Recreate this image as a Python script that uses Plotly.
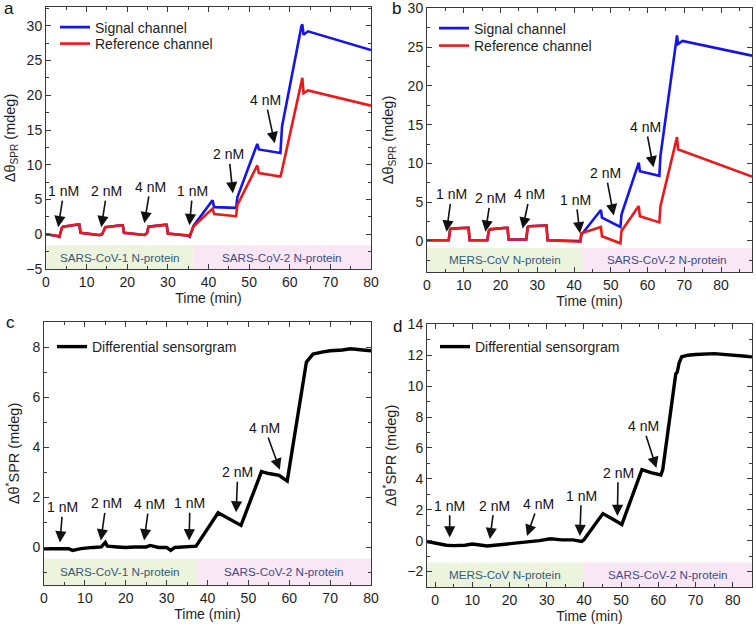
import plotly.graph_objects as go

W, H = 756, 632

# ---------------- data ----------------
a_time = [0, 2.5, 3.3, 3.9, 4.2, 7.5, 8.2, 8.5, 13.2, 13.8, 14.3, 14.6, 18.5, 18.9, 19.2, 24.3, 24.9, 25.2,
          29.2, 29.7, 30.0, 35.0, 35.4, 36.3, 41.0, 41.4, 46.8, 47.1, 52.0, 52.4, 57.7, 58.1, 62.9, 63.1,
          63.4, 64.5, 80.0]
a_signal = [0, -0.2, -0.4, 0.9, 1.1, 1.4, 1.4, 0.2, -0.15, 0.0, 0.8, 1.0, 1.3, 1.3, 0.2, -0.1, 0.2, 1.1,
            1.35, 1.35, 0.1, -0.2, -0.35, 1.2, 4.9, 3.9, 3.8, 5.3, 13.0, 12.2, 11.7, 15.5, 30.0, 30.2,
            28.7, 29.2, 26.5]
a_reference = [0, -0.2, -0.3, 0.9, 1.1, 1.4, 1.4, 0.2, -0.1, 0.0, 0.8, 1.0, 1.3, 1.3, 0.2, -0.1, 0.2, 1.1,
               1.35, 1.35, 0.1, -0.2, -0.2, 1.1, 3.7, 2.9, 2.6, 4.2, 9.9, 8.8, 8.3, 9.2, 22.0, 22.5,
               20.3, 20.7, 18.5]

b_time = [0, 5.9, 6.3, 6.6, 11.0, 11.3, 11.6, 16.4, 16.8, 17.1, 21.6, 21.9, 22.2, 27.0, 27.4, 27.7, 32.2,
          32.5, 32.8, 41.7, 42.0, 47.3, 47.6, 52.6, 52.9, 57.6, 57.9, 63.2, 63.5, 68.0, 68.3, 69.5, 88.4]
b_signal = [0.1, 0.1, 1.5, 1.6, 1.7, 1.7, 0.1, 0.1, 1.3, 1.5, 1.7, 1.7, 0.2, 0.2, 1.8, 1.9, 2.0,
            2.0, 0.1, 0.0, 0.8, 4.0, 3.0, 1.8, 3.4, 10.1, 9.0, 8.4, 11.0, 26.5, 25.4, 25.8, 23.9]
b_reference = [0.1, 0.1, 1.5, 1.6, 1.7, 1.7, 0.1, 0.1, 1.3, 1.5, 1.7, 1.7, 0.2, 0.2, 1.8, 1.9, 2.0,
               2.0, 0.1, -0.1, 1.0, 1.8, 0.6, -0.3, 1.3, 4.5, 3.2, 2.4, 4.5, 13.4, 11.8, 11.6, 8.3]

c_time = [0, 2, 4, 6, 7, 9, 12, 14, 15, 15.5, 18, 20, 22, 25, 26, 28, 30, 31, 32, 34, 36.5, 37.2,
          42.6, 44, 46, 47.5, 48.2, 53.2, 55, 57.5, 59.0, 59.5, 64.2, 65.8, 68, 70, 73, 75, 78, 80]
c_diff = [-0.05, -0.05, -0.08, -0.05, -0.12, -0.05, 0.0, 0.02, 0.2, 0.05, 0.02, 0.0, 0.02, 0.02, 0.08,
          0.0, 0.0, -0.12, 0.0, 0.02, 0.03, 0.05, 1.38, 1.25, 1.1, 0.95, 0.88, 3.03, 2.95, 2.88, 2.7,
          2.65, 7.4, 7.72, 7.8, 7.85, 7.88, 7.93, 7.88, 7.85]

d_time = [-2.2, 0, 3, 5, 8, 10, 12, 14, 16, 20, 25, 28, 31, 34, 37, 39.4, 40, 45.1, 47, 50.2, 55.6, 58,
          60.7, 61.2, 64.7, 65.1, 65.6, 66.3, 68, 70, 75, 80, 85.2]
d_diff = [-0.05, -0.15, -0.3, -0.32, -0.3, -0.22, -0.3, -0.35, -0.3, -0.2, -0.12, 0.0, 0.12, 0.05, 0.05,
          -0.05, 0.05, 1.75, 1.5, 1.05, 4.6, 4.4, 4.25, 4.6, 10.8, 10.9, 11.5, 11.9, 12.0, 12.05, 12.1,
          12.0, 11.9]

# annotations: (label, tip_x, tip_y, text_x, text_y)
a_marks = [("1 nM", 3.0, 1.0, 4.4, 6.2), ("2 nM", 13.6, 1.0, 15.0, 6.2), ("4 nM", 24.2, 1.6, 25.7, 6.8),
           ("1 nM", 35.3, 1.3, 36.1, 6.2), ("2 nM", 46.0, 5.9, 45.0, 11.5), ("4 nM", 56.3, 13.1, 54.0, 19.3)]
b_marks = [("1 nM", 5.3, 1.2, 6.7, 6.0), ("2 nM", 15.9, 1.2, 17.3, 5.5), ("4 nM", 26.0, 1.6, 28.0, 6.0),
           ("1 nM", 41.6, 1.0, 40.5, 5.3), ("2 nM", 50.8, 3.3, 48.6, 8.75), ("4 nM", 61.6, 9.5, 59.5, 14.7)]
c_marks = [("1 nM", 3.9, 0.2, 4.6, 1.6), ("2 nM", 13.9, 0.28, 15.2, 1.76), ("4 nM", 24.5, 0.28, 25.7, 1.73),
           ("1 nM", 35.5, 0.28, 35.7, 1.76), ("2 nM", 47.0, 1.4, 47.4, 3.0), ("4 nM", 57.7, 3.1, 54.0, 4.77)]
d_marks = [("1 nM", 3.9, 0.2, 3.9, 2.26), ("2 nM", 14.7, 0.1, 15.9, 2.26), ("4 nM", 24.7, 0.3, 27.7, 2.37),
           ("1 nM", 38.9, 0.3, 39.3, 2.9), ("2 nM", 49.0, 1.6, 49.2, 4.4), ("4 nM", 59.5, 4.7, 55.9, 7.4)]

# shaded sample regions: (x_start, x_split, x_end, y_top), labels
a_shade = (0, 36.3, 80, -1.6)
b_shade = (0, 42.4, 88.4, -0.9)
c_shade = (0, 37.4, 80, -0.45)
d_shade = (-2.2, 40.0, 85.2, -1.42)
a_labels = ("SARS-CoV-1 N-protein", "SARS-CoV-2 N-protein")
b_labels = ("MERS-CoV N-protein", "SARS-CoV-2 N-protein")

# ---------------- layout helpers ----------------
def px(x):
    return x / W

def py(y):
    return 1 - y / H

FONT = "Liberation Sans, Arial, sans-serif"
LINE = "#3a3a3a"
GREEN = "rgb(237,244,221)"
PINK = "rgb(250,231,246)"
TXT_L = "#33597a"
TXT_R = "#3a4c86"
BLUE = "rgb(20,20,235)"
RED = "rgb(235,25,25)"

panels = [
    dict(xa="xaxis", ya="yaxis", xr="x", yr="y", fx=(46, 371), fy=(7, 269), xrange=[0, 80],
         yrange=[-5, 32.7], ydt=5, ymin=2.5, ytitle="Δθ<sub>SPR</sub> (mdeg)", so=7),
    dict(xa="xaxis2", ya="yaxis2", xr="x2", yr="y2", fx=(427, 752), fy=(8, 272), xrange=[0, 88.4],
         yrange=[-4, 30.05], ydt=5, ymin=2.5, ytitle="Δθ<sub>SPR</sub> (mdeg)", so=10),
    dict(xa="xaxis3", ya="yaxis3", xr="x3", yr="y3", fx=(44, 371), fy=(322, 585), xrange=[0, 80],
         yrange=[-1.5, 9], ydt=2, ymin=1, ytitle="Δθ<sup>*</sup>SPR (mdeg)", so=9),
    dict(xa="xaxis4", ya="yaxis4", xr="x4", yr="y4", fx=(427, 752), fy=(324, 587), xrange=[-2.2, 85.2],
         yrange=[-3, 14.02], ydt=2, ymin=1, ytitle="Δθ<sup>*</sup>SPR (mdeg)", so=7),
]

fig = go.Figure()

fig.add_trace(go.Scatter(x=a_time, y=a_signal, mode="lines", name="Signal channel",
                         line=dict(color=BLUE, width=2.6), xaxis="x", yaxis="y", legend="legend"))
fig.add_trace(go.Scatter(x=a_time, y=a_reference, mode="lines", name="Reference channel",
                         line=dict(color=RED, width=2.6), xaxis="x", yaxis="y", legend="legend2"))
fig.add_trace(go.Scatter(x=b_time, y=b_signal, mode="lines", name="Signal channel",
                         line=dict(color=BLUE, width=2.6), xaxis="x2", yaxis="y2", legend="legend3"))
fig.add_trace(go.Scatter(x=b_time, y=b_reference, mode="lines", name="Reference channel",
                         line=dict(color=RED, width=2.6), xaxis="x2", yaxis="y2", legend="legend4"))
fig.add_trace(go.Scatter(x=c_time, y=c_diff, mode="lines", name="Differential sensorgram",
                         line=dict(color="black", width=3.4), xaxis="x3", yaxis="y3", legend="legend5"))
fig.add_trace(go.Scatter(x=d_time, y=d_diff, mode="lines", name="Differential sensorgram",
                         line=dict(color="black", width=3.4), xaxis="x4", yaxis="y4", legend="legend6"))

layout = dict(width=W, height=H, margin=dict(l=0, r=0, t=0, b=0, autoexpand=False), paper_bgcolor="white",
              plot_bgcolor="white", font=dict(family=FONT, size=14, color="#1e1e1e"), showlegend=True)

for p in panels:
    common = dict(showline=True, linecolor=LINE, linewidth=1, mirror="allticks", ticks="inside",
                  ticklen=5, tickwidth=1, tickcolor=LINE, showgrid=False, zeroline=False, automargin=False,
                  tickfont=dict(size=14, color="#1e1e1e"))
    layout[p["xa"]] = dict(common, domain=[px(p["fx"][0]), px(p["fx"][1])], range=p["xrange"],
                           anchor=p["yr"], dtick=10, tick0=0,
                           minor=dict(ticks="inside", ticklen=3, tickcolor=LINE, dtick=5, tick0=0),
                           title=dict(text="Time (min)", font=dict(size=14), standoff=3))
    layout[p["ya"]] = dict(common, domain=[py(p["fy"][1]), py(p["fy"][0])], range=p["yrange"],
                           anchor=p["xr"], dtick=p["ydt"], tick0=0,
                           minor=dict(ticks="inside", ticklen=3, tickcolor=LINE, dtick=p["ymin"], tick0=0),
                           title=dict(text=p["ytitle"], font=dict(size=14.5), standoff=p["so"]))

# one legend per entry so each row sits exactly where the reference has it
leg_common = dict(xanchor="left", yanchor="top", bgcolor="rgba(0,0,0,0)", font=dict(size=14, color="#1e1e1e"),
                  itemwidth=30, tracegroupgap=0, borderwidth=0)
for name, lx, ltop in [("legend", 55, 11.5), ("legend2", 55, 28), ("legend3", 434, 12.5), ("legend4", 434, 30),
                       ("legend5", 52, 331), ("legend6", 435, 331)]:
    layout[name] = dict(leg_common, x=px(lx), y=py(ltop))

fig.update_layout(**layout)

shapes = []
annotations = []
for p, shade, labels in [(panels[0], a_shade, a_labels), (panels[1], b_shade, b_labels),
                         (panels[2], c_shade, a_labels), (panels[3], d_shade, b_labels)]:
    x0, xs, x1, ytop = shade
    ybot = p["yrange"][0]
    shapes.append(dict(type="rect", xref=p["xr"], yref=p["yr"], x0=x0, x1=xs, y0=ybot, y1=ytop,
                       fillcolor=GREEN, line=dict(width=0), layer="below"))
    shapes.append(dict(type="rect", xref=p["xr"], yref=p["yr"], x0=xs, x1=x1, y0=ybot, y1=ytop,
                       fillcolor=PINK, line=dict(width=0), layer="below"))
    ymid = (ybot + ytop) / 2
    annotations.append(dict(xref=p["xr"], yref=p["yr"], x=(x0 + xs) / 2, y=ymid, text=labels[0],
                            showarrow=False, font=dict(size=11.7, color=TXT_L)))
    annotations.append(dict(xref=p["xr"], yref=p["yr"], x=(xs + x1) / 2, y=ymid, text=labels[1],
                            showarrow=False, font=dict(size=11.7, color=TXT_R)))

for p, marks in [(panels[0], a_marks), (panels[1], b_marks), (panels[2], c_marks), (panels[3], d_marks)]:
    for lab, tx, ty, ax, ay in marks:
        annotations.append(dict(xref=p["xr"], yref=p["yr"], axref=p["xr"], ayref=p["yr"], x=tx, y=ty,
                                ax=ax, ay=ay, text=lab, showarrow=True, arrowhead=2, arrowsize=1.4,
                                arrowwidth=1.6, arrowcolor="#111", font=dict(size=14, color="#111"),
                                standoff=0))

for letter, lx, ly in [("a", 9, 9), ("b", 396, 9), ("c", 10, 323), ("d", 397, 326)]:
    annotations.append(dict(xref="paper", yref="paper", x=px(lx), y=py(ly), text=letter, showarrow=False,
                            font=dict(size=17, color="#111"), xanchor="center", yanchor="middle"))

fig.update_layout(shapes=shapes, annotations=annotations)
fig.write_html("out.html", config={"displayModeBar": False},
               post_script="document.body.style.margin='0px';")
